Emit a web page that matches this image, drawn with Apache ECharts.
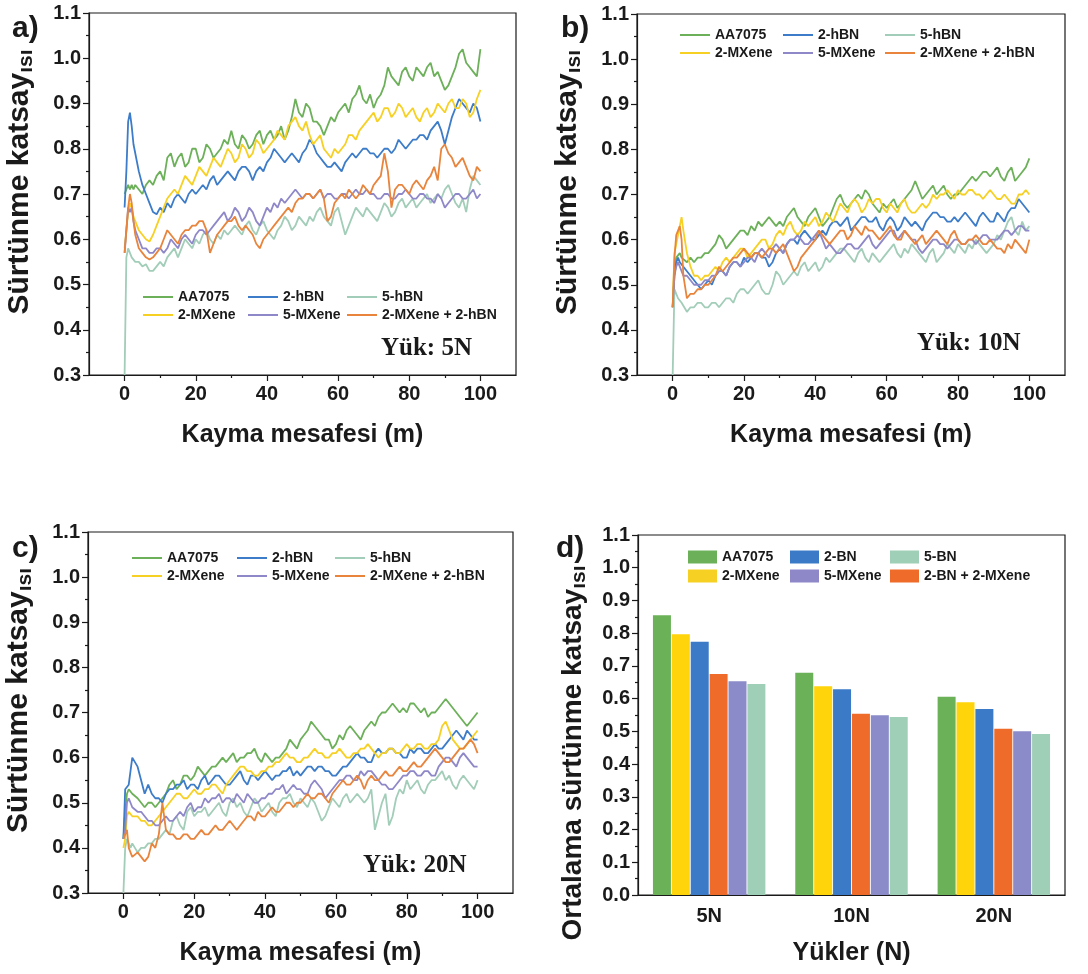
<!DOCTYPE html>
<html>
<head>
<meta charset="utf-8">
<script src="https://cdn.jsdelivr.net/npm/echarts@6/dist/echarts.min.js"></script>
<style>
html,body{margin:0;padding:0;background:#fff}
#chart{width:1088px;height:974px}
</style>
</head>
<body>
<div id="chart"></div>
<script>
// Sliding distance (m) shared by the friction traces
const distance = [0,0.5,1,1.5,2,2.5,3,4,5,6,7,8,9,
  10,11,12,13,14,15,16,17,18,19,20,21,22,23,24,25,26,27,28,29,
  30,31,32,33,34,35,36,37,38,39,40,41,42,43,44,45,46,47,48,49,
  50,51,52,53,54,55,56,57,58,59,60,61,62,63,64,65,66,67,68,69,
  70,71,72,73,74,75,76,77,78,79,80,81,82,83,84,85,86,87,88,89,
  90,91,92,93,94,95,96,97,98,99,100];

// Load 5N
const a_AA7075 = [0.70,0.71,0.72,0.71,0.72,0.71,0.72,0.71,0.70,0.72,0.73,0.72,0.74,
  0.75,0.73,0.78,0.79,0.76,0.78,0.79,0.76,0.77,0.80, 0.80,0.77,0.78,0.81,0.80,0.78,0.79,0.80,0.82,0.81,
  0.84,0.81,0.80,0.83,0.82,0.80,0.81,0.83,0.84,0.81, 0.83,0.84,0.82,0.83,0.85,0.82,0.84,0.87,0.91,0.88,
  0.87,0.90,0.89,0.86,0.86,0.85,0.83,0.85,0.87,0.86, 0.88,0.89,0.90,0.88,0.91,0.92,0.94,0.91,0.90,0.92,
  0.89,0.91,0.92,0.94,0.98,0.96,0.95,0.94,0.97,0.98, 0.96,0.95,0.98,0.97,0.96,0.98,0.99,0.96,0.97,0.95,
  0.93,0.94,0.96,0.98,1.01,1.02,0.99,0.98,0.97,0.96, 1.02];
const a_2hBN = [0.67,0.75,0.86,0.88,0.85,0.81,0.79,0.75,0.72,0.70,0.68,0.66,0.655,
  0.67,0.66,0.68,0.67,0.69,0.70,0.69,0.68,0.70,0.71, 0.70,0.71,0.72,0.71,0.73,0.74,0.72,0.73,0.74,0.75,
  0.74,0.73,0.75,0.76,0.76,0.75,0.73,0.75,0.76,0.75, 0.77,0.78,0.80,0.79,0.78,0.77,0.78,0.79,0.78,0.77,
  0.79,0.80,0.82,0.81,0.79,0.78,0.77,0.76,0.76,0.77, 0.76,0.75,0.77,0.78,0.79,0.78,0.79,0.80,0.80,0.79,
  0.79,0.78,0.79,0.80,0.80,0.79,0.80,0.82,0.81,0.80, 0.81,0.82,0.82,0.83,0.83,0.82,0.84,0.85,0.86,0.84,
  0.81,0.84,0.87,0.89,0.91,0.90,0.89,0.88,0.90,0.89, 0.86];
const a_5hBN = [0.30,0.56,0.58,0.57,0.56,0.56,0.55,0.55,0.54,0.545,0.53,0.53,0.54,
  0.55,0.54,0.56,0.57,0.58,0.56,0.58,0.60,0.59,0.58, 0.60,0.59,0.61,0.62,0.60,0.59,0.61,0.60,0.62,0.61,
  0.62,0.63,0.62,0.61,0.63,0.64,0.62,0.61,0.63,0.64, 0.62,0.61,0.60,0.62,0.63,0.65,0.64,0.62,0.63,0.65,
  0.64,0.63,0.65,0.64,0.66,0.67,0.65,0.64,0.63,0.66, 0.67,0.64,0.61,0.63,0.65,0.67,0.66,0.65,0.67,0.66,
  0.65,0.64,0.66,0.68,0.67,0.65,0.66,0.68,0.69,0.67, 0.68,0.69,0.67,0.68,0.69,0.70,0.68,0.69,0.70,0.69,
  0.71,0.72,0.70,0.68,0.67,0.69,0.66,0.71,0.74,0.73, 0.72];
const a_2MX = [0.58,0.62,0.66,0.68,0.67,0.65,0.64,0.62,0.61,0.60,0.595,0.61,0.63,
  0.65,0.67,0.69,0.70,0.71,0.70,0.72,0.74,0.73,0.72, 0.74,0.76,0.75,0.74,0.76,0.78,0.77,0.76,0.78,0.80,
  0.79,0.77,0.78,0.81,0.80,0.78,0.79,0.82,0.81,0.79, 0.80,0.81,0.82,0.84,0.83,0.82,0.85,0.86,0.87,0.85,
  0.84,0.86,0.83,0.81,0.82,0.83,0.80,0.79,0.78,0.80, 0.79,0.80,0.81,0.83,0.83,0.82,0.84,0.85,0.86,0.87,
  0.88,0.86,0.87,0.89,0.89,0.87,0.88,0.90,0.89,0.87, 0.88,0.89,0.87,0.86,0.88,0.89,0.87,0.88,0.90,0.89,
  0.88,0.90,0.91,0.89,0.89,0.91,0.90,0.87,0.88,0.91, 0.93];
const a_5MX = [0.57,0.62,0.67,0.66,0.67,0.64,0.62,0.60,0.58,0.58,0.57,0.57,0.58,
  0.58,0.57,0.58,0.60,0.59,0.58,0.60,0.61,0.60,0.59, 0.61,0.62,0.62,0.61,0.62,0.63,0.64,0.65,0.66,0.64,
  0.65,0.67,0.66,0.64,0.65,0.67,0.66,0.64,0.63,0.65, 0.67,0.66,0.68,0.67,0.69,0.68,0.69,0.70,0.71,0.70,
  0.69,0.70,0.70,0.69,0.70,0.71,0.69,0.70,0.70,0.69, 0.69,0.70,0.70,0.69,0.70,0.71,0.70,0.70,0.71,0.70,
  0.70,0.69,0.69,0.70,0.70,0.69,0.69,0.70,0.70,0.71, 0.70,0.69,0.69,0.70,0.70,0.69,0.69,0.68,0.70,0.69,
  0.67,0.68,0.69,0.70,0.70,0.69,0.69,0.70,0.71,0.69, 0.70];
const a_MXhBN = [0.57,0.62,0.67,0.70,0.68,0.64,0.61,0.58,0.57,0.56,0.555,0.56,0.57,
  0.58,0.60,0.62,0.61,0.60,0.59,0.61,0.62,0.62,0.63, 0.63,0.64,0.64,0.62,0.57,0.59,0.61,0.62,0.63,0.64,
  0.64,0.65,0.63,0.62,0.63,0.62,0.61,0.59,0.58,0.60, 0.61,0.62,0.63,0.64,0.65,0.66,0.67,0.66,0.68,0.69,
  0.69,0.70,0.70,0.69,0.70,0.71,0.69,0.64,0.65,0.68, 0.69,0.70,0.69,0.71,0.70,0.69,0.70,0.72,0.71,0.70,
  0.72,0.73,0.74,0.79,0.75,0.67,0.71,0.72,0.72,0.71, 0.70,0.72,0.73,0.72,0.71,0.73,0.74,0.76,0.73,0.80,
  0.81,0.79,0.78,0.76,0.77,0.78,0.76,0.74,0.73,0.76, 0.75];

// Load 10N
const b_AA7075 = [0.45,0.54,0.56,0.56,0.57,0.56,0.56,0.55,0.56,0.55,0.56,0.56,0.57,
  0.57,0.58,0.59,0.61,0.60,0.58,0.59,0.60,0.61,0.62, 0.62,0.61,0.63,0.62,0.64,0.63,0.64,0.65,0.64,0.63,
  0.64,0.63,0.65,0.66,0.67,0.65,0.64,0.63,0.65,0.66, 0.67,0.65,0.63,0.64,0.65,0.67,0.69,0.70,0.68,0.67,
  0.68,0.69,0.70,0.69,0.71,0.70,0.68,0.67,0.66,0.68, 0.67,0.68,0.69,0.67,0.68,0.69,0.70,0.71,0.73,0.71,
  0.69,0.70,0.71,0.72,0.70,0.71,0.72,0.70,0.69,0.70, 0.70,0.71,0.72,0.73,0.74,0.73,0.74,0.75,0.75,0.74,
  0.75,0.76,0.74,0.73,0.75,0.76,0.73,0.74,0.75,0.76, 0.78];
const b_2hBN = [0.45,0.52,0.55,0.56,0.55,0.55,0.54,0.53,0.52,0.51,0.50,0.49,0.50,
  0.51,0.50,0.52,0.53,0.53,0.52,0.54,0.55,0.55,0.54, 0.56,0.55,0.56,0.57,0.57,0.56,0.56,0.54,0.55,0.57,
  0.58,0.57,0.59,0.60,0.60,0.59,0.61,0.62,0.61,0.60, 0.60,0.61,0.62,0.61,0.63,0.64,0.64,0.63,0.64,0.65,
  0.62,0.63,0.64,0.65,0.65,0.64,0.64,0.65,0.63,0.62, 0.64,0.65,0.64,0.62,0.63,0.65,0.64,0.63,0.64,0.63,
  0.62,0.64,0.65,0.66,0.66,0.65,0.65,0.64,0.64,0.65, 0.64,0.65,0.66,0.65,0.64,0.63,0.65,0.66,0.65,0.64,
  0.64,0.66,0.65,0.64,0.66,0.67,0.67,0.69,0.68,0.67, 0.66];
const b_5hBN = [0.30,0.49,0.48,0.47,0.47,0.46,0.46,0.44,0.45,0.45,0.46,0.46,0.45,
  0.45,0.46,0.46,0.45,0.46,0.47,0.47,0.46,0.48,0.49, 0.49,0.48,0.49,0.50,0.51,0.49,0.48,0.48,0.50,0.53,
  0.52,0.50,0.51,0.52,0.53,0.52,0.54,0.55,0.53,0.54, 0.55,0.53,0.54,0.56,0.55,0.56,0.57,0.58,0.58,0.57,
  0.56,0.55,0.57,0.58,0.56,0.55,0.57,0.56,0.55,0.56, 0.57,0.58,0.59,0.57,0.56,0.58,0.57,0.59,0.58,0.57,
  0.56,0.55,0.57,0.58,0.55,0.56,0.57,0.59,0.58,0.57, 0.59,0.58,0.57,0.59,0.58,0.60,0.59,0.58,0.57,0.58,
  0.59,0.61,0.60,0.62,0.64,0.65,0.62,0.61,0.64,0.62, 0.63];
const b_2MX = [0.45,0.57,0.59,0.61,0.63,0.65,0.62,0.57,0.54,0.52,0.52,0.51,0.52,
  0.52,0.53,0.54,0.53,0.55,0.56,0.55,0.56,0.57,0.58, 0.58,0.56,0.57,0.58,0.59,0.60,0.60,0.58,0.59,0.61,
  0.62,0.61,0.63,0.64,0.62,0.61,0.62,0.64,0.63,0.64, 0.65,0.63,0.64,0.66,0.65,0.64,0.66,0.68,0.67,0.66,
  0.68,0.69,0.68,0.66,0.67,0.69,0.68,0.69,0.69,0.67, 0.66,0.68,0.67,0.66,0.68,0.69,0.67,0.66,0.66,0.67,
  0.68,0.67,0.68,0.70,0.69,0.70,0.70,0.71,0.70,0.69, 0.71,0.70,0.70,0.71,0.71,0.70,0.70,0.69,0.70,0.71,
  0.70,0.69,0.69,0.70,0.69,0.68,0.68,0.70,0.70,0.71, 0.70];
const b_5MX = [0.45,0.52,0.54,0.55,0.54,0.53,0.52,0.52,0.51,0.50,0.50,0.50,0.51,
  0.51,0.52,0.52,0.53,0.53,0.52,0.54,0.55,0.55,0.54, 0.55,0.56,0.56,0.55,0.57,0.58,0.57,0.56,0.58,0.59,
  0.58,0.57,0.59,0.60,0.60,0.61,0.60,0.59,0.59,0.60, 0.61,0.62,0.60,0.58,0.59,0.58,0.57,0.57,0.58,0.59,
  0.59,0.58,0.58,0.59,0.60,0.61,0.59,0.58,0.59,0.60, 0.61,0.62,0.62,0.60,0.61,0.62,0.61,0.60,0.60,0.58,
  0.57,0.58,0.59,0.60,0.60,0.59,0.59,0.58,0.59,0.60, 0.60,0.59,0.59,0.60,0.60,0.59,0.60,0.61,0.61,0.60,
  0.60,0.60,0.61,0.62,0.62,0.61,0.62,0.63,0.63,0.62, 0.62];
const b_MXhBN = [0.45,0.56,0.61,0.62,0.63,0.60,0.52,0.47,0.48,0.48,0.49,0.49,0.50,
  0.50,0.51,0.52,0.54,0.53,0.54,0.55,0.56,0.56,0.57, 0.58,0.57,0.56,0.57,0.57,0.56,0.57,0.58,0.58,0.57,
  0.58,0.59,0.57,0.55,0.53,0.54,0.56,0.57,0.58,0.59, 0.60,0.62,0.61,0.60,0.59,0.60,0.61,0.62,0.62,0.60,
  0.61,0.63,0.62,0.61,0.63,0.62,0.62,0.61,0.60,0.61, 0.62,0.63,0.61,0.60,0.60,0.62,0.61,0.60,0.59,0.60,
  0.61,0.59,0.60,0.61,0.62,0.61,0.60,0.59,0.61,0.62, 0.60,0.59,0.59,0.60,0.60,0.61,0.60,0.59,0.59,0.60,
  0.59,0.58,0.58,0.57,0.59,0.58,0.60,0.59,0.58,0.57, 0.60];

// Load 20N
const c_AA7075 = [0.42,0.48,0.52,0.53,0.53,0.52,0.52,0.51,0.50,0.49,0.50,0.50,0.49,
  0.50,0.51,0.52,0.54,0.55,0.53,0.54,0.56,0.56,0.55, 0.56,0.58,0.57,0.56,0.57,0.58,0.58,0.59,0.60,0.59,
  0.60,0.61,0.59,0.60,0.60,0.61,0.61,0.62,0.60,0.59, 0.61,0.60,0.59,0.60,0.60,0.61,0.62,0.64,0.63,0.62,
  0.64,0.65,0.66,0.68,0.67,0.66,0.65,0.64,0.64,0.62, 0.63,0.65,0.64,0.66,0.67,0.66,0.65,0.64,0.66,0.67,
  0.68,0.67,0.69,0.70,0.70,0.71,0.72,0.71,0.70,0.71, 0.70,0.72,0.72,0.71,0.70,0.71,0.69,0.70,0.70,0.71,
  0.72,0.73,0.72,0.71,0.70,0.69,0.68,0.67,0.68,0.69, 0.70];
const c_2hBN = [0.42,0.53,0.53,0.54,0.57,0.60,0.60,0.58,0.55,0.52,0.54,0.52,0.51,
  0.51,0.50,0.52,0.53,0.53,0.54,0.54,0.55,0.53,0.54, 0.54,0.53,0.55,0.56,0.54,0.55,0.56,0.56,0.55,0.54,
  0.54,0.55,0.56,0.57,0.55,0.54,0.56,0.56,0.55,0.56, 0.57,0.56,0.55,0.56,0.56,0.57,0.57,0.58,0.56,0.57,
  0.56,0.57,0.58,0.58,0.57,0.58,0.58,0.57,0.57,0.56, 0.56,0.57,0.58,0.58,0.59,0.60,0.61,0.60,0.60,0.59,
  0.59,0.61,0.62,0.61,0.61,0.62,0.62,0.61,0.61,0.60, 0.60,0.62,0.61,0.62,0.62,0.61,0.61,0.62,0.63,0.62,
  0.62,0.63,0.64,0.65,0.66,0.65,0.64,0.66,0.65,0.64, 0.64];
const c_5hBN = [0.30,0.40,0.42,0.41,0.40,0.41,0.41,0.39,0.40,0.40,0.41,0.41,0.42,
  0.42,0.43,0.44,0.43,0.46,0.47,0.45,0.44,0.48,0.49, 0.47,0.48,0.48,0.49,0.47,0.48,0.49,0.50,0.48,0.47,
  0.50,0.51,0.49,0.50,0.48,0.47,0.49,0.51,0.50,0.48, 0.49,0.50,0.48,0.47,0.50,0.51,0.51,0.52,0.50,0.49,
  0.51,0.50,0.49,0.51,0.50,0.48,0.46,0.47,0.49,0.51, 0.50,0.49,0.51,0.52,0.50,0.51,0.52,0.51,0.50,0.51,
  0.53,0.44,0.47,0.50,0.52,0.45,0.47,0.51,0.53,0.52, 0.55,0.53,0.54,0.55,0.53,0.52,0.54,0.55,0.55,0.56,
  0.57,0.55,0.56,0.54,0.53,0.55,0.56,0.55,0.54,0.53, 0.55];
const c_2MX = [0.40,0.42,0.47,0.48,0.48,0.47,0.47,0.47,0.46,0.46,0.45,0.45,0.46,
  0.47,0.48,0.49,0.50,0.51,0.52,0.52,0.51,0.51,0.52, 0.53,0.52,0.52,0.53,0.53,0.54,0.54,0.53,0.52,0.54,
  0.55,0.56,0.57,0.58,0.58,0.57,0.57,0.56,0.56,0.57, 0.57,0.58,0.58,0.59,0.59,0.60,0.61,0.60,0.60,0.59,
  0.59,0.60,0.60,0.61,0.62,0.61,0.61,0.60,0.60,0.61, 0.61,0.62,0.61,0.60,0.60,0.61,0.61,0.62,0.62,0.63,
  0.62,0.61,0.60,0.61,0.61,0.62,0.62,0.61,0.61,0.62, 0.63,0.62,0.62,0.63,0.63,0.62,0.62,0.63,0.63,0.64,
  0.67,0.68,0.66,0.64,0.63,0.62,0.62,0.63,0.64,0.65, 0.66];
const c_5MX = [0.42,0.44,0.50,0.51,0.50,0.49,0.49,0.48,0.48,0.47,0.46,0.46,0.45,
  0.45,0.46,0.47,0.46,0.46,0.47,0.48,0.47,0.49,0.50, 0.48,0.49,0.49,0.51,0.50,0.51,0.51,0.52,0.50,0.51,
  0.51,0.50,0.52,0.51,0.50,0.52,0.51,0.50,0.50,0.51, 0.51,0.52,0.52,0.53,0.53,0.54,0.52,0.53,0.54,0.53,
  0.53,0.52,0.52,0.54,0.55,0.54,0.53,0.51,0.52,0.53, 0.54,0.55,0.55,0.56,0.56,0.55,0.55,0.57,0.56,0.57,
  0.57,0.56,0.55,0.54,0.54,0.53,0.53,0.54,0.55,0.56, 0.56,0.57,0.57,0.56,0.56,0.57,0.57,0.56,0.56,0.58,
  0.59,0.60,0.60,0.59,0.58,0.60,0.61,0.60,0.59,0.58, 0.58];
const c_MXhBN = [0.42,0.43,0.44,0.40,0.39,0.38,0.38,0.39,0.38,0.37,0.38,0.41,0.40,
  0.43,0.50,0.44,0.43,0.43,0.42,0.42,0.43,0.43,0.42, 0.42,0.43,0.44,0.43,0.43,0.44,0.45,0.44,0.44,0.45,
  0.46,0.45,0.44,0.45,0.46,0.47,0.47,0.46,0.48,0.47, 0.47,0.48,0.49,0.48,0.48,0.49,0.50,0.50,0.49,0.50,
  0.50,0.51,0.52,0.51,0.51,0.52,0.52,0.51,0.50,0.52, 0.53,0.54,0.55,0.54,0.54,0.55,0.56,0.55,0.53,0.55,
  0.56,0.55,0.55,0.56,0.57,0.56,0.56,0.57,0.58,0.57, 0.57,0.58,0.59,0.58,0.58,0.59,0.60,0.61,0.62,0.61,
  0.60,0.59,0.59,0.60,0.61,0.62,0.62,0.63,0.64,0.63, 0.61];

// Average friction coefficient per load
const loads = ['5N','10N','20N'];
const avg_AA7075 = [0.855,0.679,0.606];
const avg_2MX    = [0.797,0.638,0.589];
const avg_2BN    = [0.774,0.629,0.568];
const avg_BNMX   = [0.675,0.554,0.508];
const avg_5MX    = [0.653,0.549,0.500];
const avg_5BN    = [0.645,0.544,0.492];

const FONT = '"Liberation Sans", Arial, sans-serif';
const SERIF = '"Liberation Serif", "Times New Roman", serif';
const INK = '#1a1a1a';

const lineNames = ['AA7075','2-hBN','5-hBN','2-MXene','5-MXene','2-MXene + 2-hBN'];
const lineColors = ['#6db05a','#3d7cc8','#a2cdb8','#f7d024','#8e87c8','#e8843c'];
const barNames = ['AA7075','2-MXene','2-BN','2-BN + 2-MXene','5-MXene','5-BN'];
const barColors = ['#6ab157','#ffd40a','#3a7ac6','#ef6b2a','#8a8bc8','#9fcfb6'];

const grids = [
  {left: 89,  top: 13,  width: 427, height: 362},
  {left: 637, top: 14,  width: 428, height: 361},
  {left: 88,  top: 532, width: 425, height: 361},
  {left: 638, top: 535, width: 427, height: 360}
];

const lineData = [
  [a_AA7075,a_2hBN,a_5hBN,a_2MX,a_5MX,a_MXhBN],
  [b_AA7075,b_2hBN,b_5hBN,b_2MX,b_5MX,b_MXhBN],
  [c_AA7075,c_2hBN,c_5hBN,c_2MX,c_5MX,c_MXhBN]
];

const axisLineStyle = {onZero: false, lineStyle: {color: INK, width: 1.2}};
const tickLabel = {fontFamily: FONT, fontWeight: 'bold', fontSize: 20, color: INK};
const titleStyle = {fontFamily: FONT, fontWeight: 'bold', fontSize: 25, color: INK};
// y titles: the trailing "ısı" is set smaller, sitting on the baseline
function yTitleStyle(size, padding) {
  return {
    fontFamily: FONT, fontWeight: 'bold', fontSize: size, color: INK, lineHeight: 34,
    padding: padding,
    rich: {s: {fontFamily: FONT, fontWeight: 'bold', fontSize: 21, color: INK,
               lineHeight: 24, verticalAlign: 'bottom'}}
  };
}

const xAxes = [], yAxes = [], series = [], legends = [];

// legend slots: icon start x and row centre y for the 2x3 layout
const legendSlots = [
  {cols: [143, 248, 347], rows: [297, 315]},
  {cols: [680, 783, 885], rows: [35, 53]},
  {cols: [132, 237, 335], rows: [558, 576]},
  {cols: [688, 790, 890], rows: [557, 576]}
];
const lineLegendOrder = [['AA7075','2-hBN','5-hBN'],['2-MXene','5-MXene','2-MXene + 2-hBN']];
const barLegendOrder  = [['AA7075','2-BN','5-BN'],['2-MXene','5-MXene','2-BN + 2-MXene']];

function addLegends(p, order, isBar) {
  const s = legendSlots[p];
  order.forEach((row, r) => row.forEach((name, c) => {
    legends.push({
      data: [name],
      left: s.cols[c],
      top: s.rows[r] - 8,
      padding: 0,
      icon: 'rect',
      itemWidth: isBar ? 29 : 30,
      itemHeight: isBar ? 13 : 2,
      selectedMode: false,
      textStyle: {fontFamily: FONT, fontWeight: 'bold', fontSize: 14, color: INK, lineHeight: 16}
    });
  }));
}

for (let p = 0; p < 3; p++) {
  // main distance axis
  xAxes.push({
    type: 'value', gridIndex: p, min: -10, max: 110,
    name: 'Kayma mesafesi (m)', nameLocation: 'middle', nameGap: 48,
    nameTextStyle: titleStyle,
    axisLine: axisLineStyle,
    axisTick: {length: 6, lineStyle: {color: INK, width: 1.2}, customValues: [0,20,40,60,80,100]},
    axisLabel: Object.assign({margin: 9, customValues: [0,20,40,60,80,100]}, tickLabel),
    splitLine: {show: false}
  });
  // minor distance ticks, moved down onto the bottom edge
  xAxes.push({
    type: 'value', gridIndex: p, min: -10, max: 110, position: 'top',
    offset: -grids[p].height,
    axisLine: {show: false, onZero: false},
    axisTick: {inside: true, length: 3, lineStyle: {color: INK, width: 1.2}, customValues: [10,30,50,70,90]},
    axisLabel: {show: false, customValues: [10,30,50,70,90]},
    splitLine: {show: false}
  });
  yAxes.push({
    type: 'value', gridIndex: p, min: 0.3, max: 1.1, interval: 0.1,
    name: 'Sürtünme katsay{s|ısı}', nameLocation: 'middle', nameGap: 52,
    nameTextStyle: yTitleStyle(30, [0, 0, 0, 24]),
    axisLine: Object.assign({show: true}, axisLineStyle),
    axisTick: {show: true, length: 6, lineStyle: {color: INK, width: 1.2}},
    minorTick: {show: true, splitNumber: 2, length: 3, lineStyle: {color: INK, width: 1.2}},
    axisLabel: Object.assign({margin: 8, formatter: v => v.toFixed(1)}, tickLabel),
    splitLine: {show: false}
  });
  lineData[p].forEach((vals, k) => {
    series.push({
      type: 'line', name: lineNames[k], xAxisIndex: p * 2, yAxisIndex: p,
      data: distance.map((d, i) => [d, vals[i]]),
      showSymbol: false, symbol: 'none',
      lineStyle: {color: lineColors[k], width: 1.8},
      itemStyle: {color: lineColors[k]},
      emphasis: {disabled: true}, animation: false
    });
  });
  addLegends(p, lineLegendOrder, false);
}

// bar panel
xAxes.push({
  type: 'category', gridIndex: 3, data: loads,
  name: 'Yükler (N)', nameLocation: 'middle', nameGap: 46, nameTextStyle: titleStyle,
  axisLine: axisLineStyle,
  axisTick: {length: 6, lineStyle: {color: INK, width: 1.2}},
  axisLabel: Object.assign({margin: 11}, tickLabel),
  splitLine: {show: false}
});
yAxes.push({
  type: 'value', gridIndex: 3, min: 0, max: 1.1, interval: 0.1,
  name: 'Ortalama sürtünme katsay{s|ısı}', nameLocation: 'middle', nameGap: 48,
  nameTextStyle: yTitleStyle(28, [0, 76, 0, 0]),
  axisLine: Object.assign({show: true}, axisLineStyle),
  axisTick: {show: true, length: 6, lineStyle: {color: INK, width: 1.2}},
  minorTick: {show: true, splitNumber: 2, length: 3, lineStyle: {color: INK, width: 1.2}},
  axisLabel: Object.assign({margin: 8, formatter: v => v.toFixed(1)}, tickLabel),
  splitLine: {show: false}
});
[avg_AA7075, avg_2MX, avg_2BN, avg_BNMX, avg_5MX, avg_5BN].forEach((vals, k) => {
  series.push({
    type: 'bar', name: barNames[k], xAxisIndex: xAxes.length - 1, yAxisIndex: 3,
    data: vals, barGap: '5%', barCategoryGap: '21%',
    itemStyle: {color: barColors[k]},
    emphasis: {disabled: true}, animation: false
  });
});
addLegends(3, barLegendOrder, true);

const panelLetter = (t, x, y) => ({
  type: 'text', left: x, top: y,
  style: {text: t, font: 'bold 30px ' + FONT, fill: INK}
});
const loadTag = (t, x, y) => ({
  type: 'text', left: x, top: y,
  style: {text: t, font: 'bold 25px ' + SERIF, fill: INK}
});

const chart = echarts.init(document.getElementById('chart'), null, {renderer: 'canvas'});
chart.setOption({
  animation: false,
  backgroundColor: '#fff',
  grid: grids.map(g => Object.assign({show: true, borderColor: INK, borderWidth: 1.2, backgroundColor: 'transparent', containLabel: false}, g)),
  xAxis: xAxes,
  yAxis: yAxes,
  legend: legends,
  series: series,
  graphic: [
    panelLetter('a)', 12, 14),
    panelLetter('b)', 561, 14),
    panelLetter('c)', 12, 534),
    panelLetter('d)', 556, 534),
    loadTag('Yük: 5N', 381, 336),
    loadTag('Yük: 10N', 917, 331),
    loadTag('Yük: 20N', 363, 853)
  ]
});
</script>
</body>
</html>
